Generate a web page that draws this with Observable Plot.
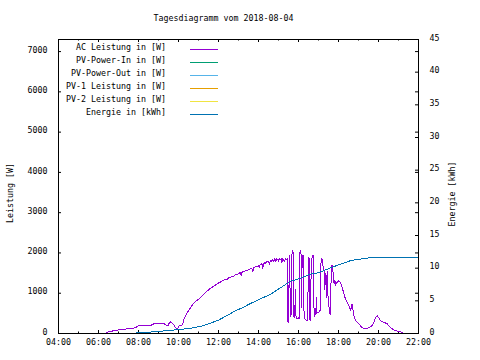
<!DOCTYPE html>
<html><head><meta charset="utf-8">
<script src="https://cdn.jsdelivr.net/npm/d3@7"></script>
<script src="https://cdn.jsdelivr.net/npm/@observablehq/plot@0.6"></script>
<style>body{margin:0;background:#fff;} svg{display:block;}</style>
</head><body><div id="chart"></div>
<script>
// ---- data ----
const chartTitle = "Tagesdiagramm vom 2018-08-04";
const yLabel = "Leistung [W]";
const y2Label = "Energie [kWh]";
const seriesNames = ["AC Leistung in [W]", "PV-Power-In in [W]", "PV-Power-Out in [W]", "PV-1 Leistung in [W]", "PV-2 Leistung in [W]", "Energie in [kWh]"];
const seriesColors = ["#9400d3", "#009e73", "#56b4e9", "#e69f00", "#f0e442", "#0072b2"];

const acTimes = ["06:21","06:24","06:28","06:32","06:36","06:40","06:44","06:48","06:52","06:56","07:00","07:05","07:10","07:15","07:20","07:25","07:30","07:35","07:40","07:45","07:50","07:55","08:00","08:05","08:10","08:15","08:20","08:25","08:30","08:35","08:40","08:45","08:50","08:55","09:00","09:05","09:10","09:15","09:20","09:25","09:28","09:31","09:35","09:38","09:42","09:46","09:50","09:54","09:58","10:02","10:06","10:10","10:13","10:16","10:20","10:25","10:30","10:35","10:40","10:45","10:50","10:55","11:00","11:05","11:10","11:15","11:20","11:25","11:30","11:35","11:40","11:45","11:50","11:55","12:00","12:05","12:10","12:15","12:20","12:25","12:30","12:35","12:40","12:45","12:50","12:55","13:00","13:05","13:08","13:10","13:15","13:20","13:25","13:30","13:35","13:40","13:43","13:46","13:50","13:55","14:00","14:03","14:05","14:08","14:10","14:13","14:15","14:18","14:20","14:23","14:25","14:28","14:30","14:33","14:35","14:38","14:40","14:43","14:45","14:48","14:50","14:53","14:55","14:58","15:00","15:03","15:05","15:08","15:10","15:12","15:15","15:18","15:21","15:24","15:27","15:28","15:30","15:31","15:32","15:34","15:35","15:37","15:39","15:40","15:42","15:44","15:45","15:47","15:49","15:51","15:52","15:55","15:58","16:01","16:03","16:04","16:06","16:08","16:09","16:11","16:13","16:15","16:16","16:18","16:21","16:24","16:27","16:28","16:30","16:32","16:33","16:35","16:37","16:38","16:41","16:43","16:45","16:46","16:48","16:50","16:52","16:54","16:55","16:58","17:01","17:04","17:06","17:07","17:09","17:11","17:13","17:15","17:17","17:19","17:21","17:23","17:25","17:27","17:29","17:31","17:33","17:35","17:37","17:39","17:41","17:43","17:45","17:47","17:49","17:51","17:53","17:55","17:57","18:00","18:03","18:06","18:11","18:16","18:21","18:26","18:31","18:36","18:41","18:46","18:51","19:01","19:11","19:21","19:31","19:41","19:46","19:53","19:56","20:01","20:06","20:16","20:26","20:36","20:46","20:56","21:11"];
const acWatts = [0,30,35,45,58,50,70,62,85,75,95,90,105,110,105,120,125,110,130,135,140,170,195,200,200,205,200,195,200,190,215,235,250,245,255,240,250,255,225,200,190,245,290,270,250,220,160,120,130,190,200,205,250,340,420,500,570,630,690,740,790,820,850,890,930,975,1010,1050,1080,1115,1140,1175,1200,1230,1255,1270,1300,1320,1345,1330,1380,1395,1420,1410,1455,1470,1485,1510,1440,1515,1540,1555,1560,1590,1600,1620,1540,1640,1650,1660,1690,1640,1720,1700,1750,1620,1740,1770,1730,1790,1760,1800,1780,1710,1800,1820,1790,1840,1800,1850,1790,1860,1820,1850,1800,1870,1830,1860,1760,1850,1830,1800,1860,1840,1850,300,280,320,1900,1930,450,430,530,1950,2050,2000,420,400,560,1100,450,380,360,400,370,2000,2060,1960,650,1900,1950,1920,620,400,340,330,320,720,1880,1860,380,330,900,1700,1900,1950,1940,720,420,460,550,900,500,530,520,560,600,1720,1860,1850,1700,1600,1550,1100,1500,1450,900,1550,760,720,500,480,1100,1680,1700,1600,1300,1250,1330,1200,1240,1280,1270,1310,1300,1270,1150,985,860,775,695,570,735,445,320,240,140,115,140,200,280,420,445,390,320,280,240,140,90,60,30];

const enTimes = ["07:33","07:45","08:30","09:06","09:56","10:46","11:10","11:36","12:00","12:26","12:50","13:16","13:36","14:06","14:36","15:06","15:36","16:00","16:36","17:00","17:36","18:00","18:36","19:00","19:36","20:06","21:00","22:00"];
const enKWh = [0.0,0.05,0.2,0.35,0.57,0.87,1.15,1.58,2.05,2.76,3.45,4.05,4.6,5.3,6.0,7.0,8.0,8.35,9.1,9.3,10.05,10.5,11.15,11.35,11.6,11.67,11.68,11.68];

const pvInW = [], pvOutW = [], pv1W = [], pv2W = [];

const xTickTimes = ["04:00","06:00","08:00","10:00","12:00","14:00","16:00","18:00","20:00","22:00"];
const xMinorTimes = ["05:00","07:00","09:00","11:00","13:00","15:00","17:00","19:00","21:00"];
const yTicks = [0,1000,2000,3000,4000,5000,6000,7000];
const y2Ticks = [0,5,10,15,20,25,30,35,40,45];
const yMax = 7300, y2Max = 45;

// ---- build ----
const parseT = d3.utcParse("%H:%M");
const k = yMax / y2Max;
const ac = acTimes.map((t, i) => ({t: parseT(t), v: acWatts[i]}));
const en = enTimes.map((t, i) => ({t: parseT(t), v: enKWh[i] * k}));
const xMaj = xTickTimes.map(parseT);
const xMin = xMinorTimes.map(parseT);
const y2Scaled = y2Ticks.map(d => d * k);
const FONT = "DejaVu Sans Mono";
const innerW = 360, innerH = 294;

const chart = Plot.plot({
  width: 480, height: 360,
  marginLeft: 58, marginRight: 62, marginTop: 39, marginBottom: 27,
  x: {type: "utc", domain: [parseT("04:00"), parseT("22:00")]},
  y: {domain: [0, yMax]},
  style: {fontFamily: FONT, fontSize: "8.3px", color: "black", background: "white"},
  marks: [
    Plot.axisX(xMaj, {tickSize: 0, tickPadding: 6, tickFormat: d3.utcFormat("%H:%M"), label: null, fill: "black"}),
    Plot.axisY(yTicks, {anchor: "left", tickSize: 0, tickPadding: 11, dy: -1.5, label: null, tickFormat: d => String(d), fill: "black"}),
    Plot.axisY(y2Scaled, {anchor: "right", tickSize: 0, tickPadding: 11, dy: -1.5, label: null, tickFormat: d => String(Math.round(d / k)), fill: "black"}),
    // inward ticks
    Plot.tickX(xMaj, {x: d => d, insetTop: innerH - 3, stroke: "black"}),
    Plot.tickX(xMaj, {x: d => d, insetBottom: innerH - 3, stroke: "black"}),
    Plot.tickX(xMin, {x: d => d, insetTop: innerH - 1.5, stroke: "black"}),
    Plot.tickX(xMin, {x: d => d, insetBottom: innerH - 1.5, stroke: "black"}),
    Plot.tickY(yTicks, {y: d => d, insetRight: innerW - 3, stroke: "black"}),
    Plot.tickY(yTicks, {y: d => d, insetLeft: innerW - 3, stroke: "black"}),
    Plot.tickY(y2Scaled, {y: d => d, insetLeft: innerW - 3, stroke: "black"}),
    // series
    Plot.line(ac, {x: "t", y: "v", stroke: seriesColors[0], strokeWidth: 1, shapeRendering: "crispEdges"}),
    Plot.line(pvInW, {x: "t", y: "v", stroke: seriesColors[1]}),
    Plot.line(pvOutW, {x: "t", y: "v", stroke: seriesColors[2]}),
    Plot.line(pv1W, {x: "t", y: "v", stroke: seriesColors[3]}),
    Plot.line(pv2W, {x: "t", y: "v", stroke: seriesColors[4]}),
    Plot.line(en, {x: "t", y: "v", stroke: seriesColors[5], strokeWidth: 1, shapeRendering: "crispEdges"}),
    Plot.frame({stroke: "black"})
  ]
});

const svg = d3.select(chart);
// title
svg.append("text").attr("x", 223.5).attr("y", 18).attr("text-anchor", "middle")
  .attr("dominant-baseline", "central").attr("font-family", FONT).attr("font-size", "8.3px")
  .attr("fill", "black").text(chartTitle);
// axis titles
svg.append("text").attr("transform", "translate(10,193) rotate(-90)").attr("text-anchor", "middle")
  .attr("dominant-baseline", "central").attr("font-family", FONT).attr("font-size", "8.3px")
  .attr("fill", "black").text(yLabel);
svg.append("text").attr("transform", "translate(452,194) rotate(-90)").attr("text-anchor", "middle")
  .attr("dominant-baseline", "central").attr("font-family", FONT).attr("font-size", "8.3px")
  .attr("fill", "black").text(y2Label);
// legend
const legY0 = 49.3, legStep = 13;
seriesNames.forEach((name, i) => {
  const ly = legY0 + i * legStep;
  svg.append("text").attr("x", 166).attr("y", ly - 2).attr("text-anchor", "end")
    .attr("dominant-baseline", "central").attr("font-family", FONT).attr("font-size", "8.3px")
    .attr("fill", "black").text(name);
  svg.append("line").attr("x1", 190).attr("x2", 218).attr("y1", Math.round(ly) + 0.5).attr("y2", Math.round(ly) + 0.5)
    .attr("stroke", seriesColors[i]).attr("stroke-width", 1);
});
document.getElementById("chart").appendChild(chart);
</script></body></html>
